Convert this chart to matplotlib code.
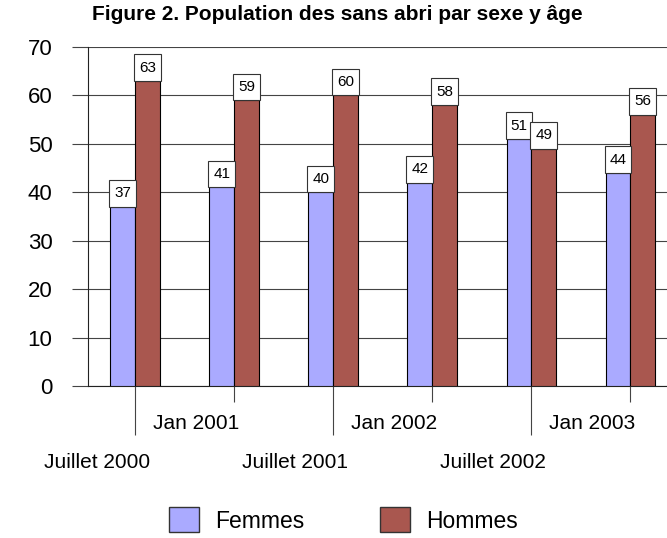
import matplotlib
matplotlib.use("Agg")
import numpy as np
import matplotlib.pyplot as plt
import matplotlib.transforms as mtransforms
from matplotlib.patches import Rectangle, Patch

plt.rcParams['font.family'] = ['Liberation Sans', 'DejaVu Sans']

periods = ["Juillet 2000", "Jan 2001", "Juillet 2001", "Jan 2002", "Juillet 2002", "Jan 2003"]
femmes = [37, 41, 40, 42, 51, 44]
hommes = [63, 59, 60, 58, 49, 56]
y_ticks = [0, 10, 20, 30, 40, 50, 60, 70]
title = "Figure 2. Population des sans abri par sexe y âge"

c_f = "#aaaaff"
c_h = "#a9574f"
w = 0.25

fig = plt.figure(figsize=(6.67, 5.38), dpi=100)
ax = fig.add_axes([88 / 667, 1 - 386 / 538, 1 - 88 / 667, (386 - 47) / 538])

x = np.arange(len(periods))
ax.bar(x - w / 2, femmes, w, color=c_f, edgecolor="black", linewidth=0.8, zorder=3)
ax.bar(x + w / 2, hommes, w, color=c_h, edgecolor="black", linewidth=0.8, zorder=3)

# value boxes sitting on top of each bar
box_h = 5.5
for xs, vals in ((x - w / 2, femmes), (x + w / 2, hommes)):
    for xi, v in zip(xs, vals):
        ax.add_patch(Rectangle((xi - w / 2 - 0.01, v), w + 0.02, box_h, facecolor="white",
                               edgecolor="#333333", linewidth=0.8, zorder=4))
        ax.text(xi, v + box_h / 2, str(v), ha="center", va="center", fontsize=11, zorder=5)

ax.set_ylim(0, 70)
ax.set_xlim(-0.475, 5.37)
ax.set_yticks(y_ticks)
ax.set_yticklabels([str(t) for t in y_ticks], fontsize=16)
ax.tick_params(axis="y", length=11.5, width=0.8, color="#444444", pad=14)
ax.yaxis.grid(True, color="#444444", linewidth=0.8, zorder=1)

# staggered category labels: long ticks for July, short ticks for January
ax.set_xticks(x[0::2])
ax.set_xticklabels(periods[0::2], fontsize=15)
ax.set_xticks(x[1::2], minor=True)
ax.set_xticklabels(periods[1::2], minor=True, fontsize=15)
ax.tick_params(axis="x", which="major", length=35, width=0.8, color="#444444", pad=13)
ax.tick_params(axis="x", which="minor", length=11.5, width=0.8, color="#444444", pad=9)

# labels sit a little left of their ticks in the original
shift = mtransforms.ScaledTranslation(-38 / 100, 0, fig.dpi_scale_trans)
for lab in ax.get_xticklabels(which="both"):
    lab.set_transform(lab.get_transform() + shift)

for s in ("top", "right"):
    ax.spines[s].set_visible(False)
ax.spines["left"].set_color("#222222")
ax.spines["bottom"].set_color("#222222")
ax.spines["left"].set_linewidth(0.8)
ax.spines["bottom"].set_linewidth(0.8)

fig.text(0.505, 1 - 14 / 538, title, ha="center", va="center", fontsize=15, fontweight="bold")

handles = [Patch(facecolor=c_f, edgecolor="#333333", label="Femmes"),
           Patch(facecolor=c_h, edgecolor="#333333", label="Hommes")]
fig.legend(handles=handles, loc="center", bbox_to_anchor=(0.515, 1 - 520 / 538), ncol=2,
           frameon=False, fontsize=16.5, handlelength=1.3, handleheight=1.3,
           columnspacing=3.3, handletextpad=0.7)

fig.savefig("out.png", dpi=100)
